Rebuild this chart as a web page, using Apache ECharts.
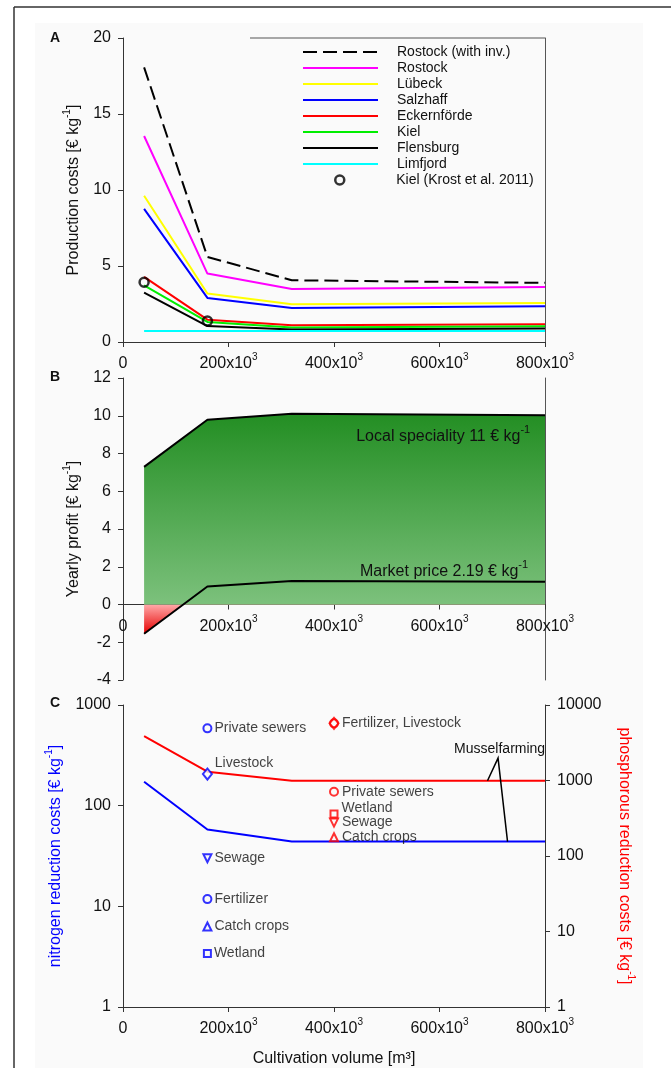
<!DOCTYPE html>
<html><head><meta charset="utf-8">
<script src="https://cdn.jsdelivr.net/npm/echarts@6/dist/echarts.min.js"></script>
<style>html,body{margin:0;padding:0;background:#fff}#c{width:671px;height:1068px}</style>
</head><body><div id="c"></div>
<script>
// ---------- DATA ----------
const volumes = [40000, 160000, 320000, 800000];
const xTicks = [0, 200000, 400000, 600000, 800000];
// Panel A: production costs [€ kg-1]
const rostockInv   = [18.07, 5.60, 4.06, 3.89];
const rostock      = [13.55, 4.50, 3.49, 3.62];
const luebeck      = [9.62, 3.19, 2.48, 2.57];
const salzhaff     = [8.76, 2.90, 2.24, 2.35];
const eckernfoerde = [4.28, 1.47, 1.10, 1.17];
const kiel         = [3.73, 1.32, 0.95, 1.03];
const flensburg    = [3.25, 1.05, 0.82, 0.88];
const limfjord     = [0.72, 0.72, 0.72, 0.72];
const krostVolumes = [40000, 160000];
const krostKiel    = [3.93, 1.38];
// Panel B: yearly profit [€ kg-1]
const profitLocal  = [7.29, 9.79, 10.10, 10.03];
const profitMarket = [-1.55, 0.95, 1.25, 1.20];
// Panel C: reduction costs [€ kg-1]
const nitrogenMussel   = [173, 58, 44, 44];
const phosphorusMussel = [3880, 1310, 995, 990];
const nVolume = 160000;
const nMeasures = ['Private sewers', 'Livestock', 'Sewage', 'Fertilizer', 'Catch crops', 'Wetland'];
const nCosts    = [586, 206, 30, 11.8, 6.3, 3.4];
const pVolume = 400000;
const pMeasures = ['Fertilizer', 'Livestock', 'Private sewers', 'Wetland', 'Sewage', 'Catch crops'];
const pCosts    = [5710, 5710, 711, 360, 277, 177];
const pLabels   = ['Fertilizer, Livestock', '', 'Private sewers', 'Wetland', 'Sewage', 'Catch crops'];

// ---------- STYLE ----------
const FONT = '"Liberation Sans", Arial, sans-serif';
const symbolStyle = {
  'Private sewers': {symbol: 'circle', size: 8, rot: 0},
  'Livestock':      {symbol: 'diamond', size: [9, 11], rot: 0},
  'Sewage':         {symbol: 'triangle', size: 8, rot: 180},
  'Fertilizer':     {symbol: 'circle', size: 8, rot: 0},
  'Catch crops':    {symbol: 'triangle', size: 8, rot: 0},
  'Wetland':        {symbol: 'rect', size: 7, rot: 0}
};
const cityLines = [
  {name: 'Rostock (with inv.)', data: rostockInv, color: '#000000', dash: [14, 6]},
  {name: 'Rostock', data: rostock, color: '#ff00ff'},
  {name: 'Lübeck', data: luebeck, color: '#ffff00'},
  {name: 'Salzhaff', data: salzhaff, color: '#0000ff'},
  {name: 'Eckernförde', data: eckernfoerde, color: '#ff0000'},
  {name: 'Kiel', data: kiel, color: '#00ee00'},
  {name: 'Flensburg', data: flensburg, color: '#000000'},
  {name: 'Limfjord', data: limfjord, color: '#00ffff'}
];
const pair = (xs, ys) => xs.map((x, i) => [x, ys[i]]);
const rich = {
  n: {fontSize: 16, fontFamily: FONT, color: '#111', lineHeight: 20, verticalAlign: 'bottom'},
  s: {fontSize: 10, fontFamily: FONT, color: '#111', lineHeight: 10, verticalAlign: 'top'}
};
const richColor = (c) => ({
  n: Object.assign({}, rich.n, {color: c}),
  s: Object.assign({}, rich.s, {color: c})
});
const volLabel = v => v === 0 ? '{n|0}' : '{n|' + Math.round(v / 1000) + 'x10}{s|3}';
const axisLineStyle = {lineStyle: {color: '#333', width: 1}};
const tickStyle = {show: true, length: 5, lineStyle: {color: '#333', width: 1}};

function xAxis(grid, extra) {
  return Object.assign({
    type: 'value', gridIndex: grid, min: xTicks[0], max: xTicks[xTicks.length - 1],
    interval: xTicks[1] - xTicks[0],
    axisLine: Object.assign({onZero: false}, axisLineStyle), axisTick: tickStyle,
    splitLine: {show: false},
    axisLabel: {formatter: volLabel, rich: rich, margin: 10}
  }, extra || {});
}
const yLabel = {fontSize: 16, color: '#111', fontFamily: FONT, margin: 12};
const borderAxis = (grid) => ({
  type: 'value', gridIndex: grid, position: 'right', axisLine: {show: true, lineStyle: {color: '#555', width: 1}},
  axisTick: {show: false}, axisLabel: {show: false}, splitLine: {show: false}
});

const series = [];
cityLines.forEach(c => series.push({
  name: c.name, type: 'line', xAxisIndex: 0, yAxisIndex: 0, data: pair(volumes, c.data),
  symbol: 'none', lineStyle: {color: c.color, width: 2, type: c.dash || 'solid'},
  itemStyle: {color: c.color}, z: 3, silent: true
}));
series.push({
  name: 'Kiel (Krost et al. 2011)', type: 'scatter', xAxisIndex: 0, yAxisIndex: 0,
  data: pair(krostVolumes, krostKiel), symbol: 'circle', symbolSize: 9,
  itemStyle: {color: 'rgba(255,255,255,0)', borderColor: '#000', borderWidth: 2.5}, z: 5
});
// Panel B
series.push({
  name: 'marketArea', type: 'line', xAxisIndex: 1, yAxisIndex: 2, data: pair(volumes, profitMarket),
  symbol: 'none', lineStyle: {width: 0},
  areaStyle: {origin: 0, opacity: 1, color: new echarts.graphic.LinearGradient(0, 0, 0, 1, [
    {offset: 0, color: '#ffd0d0'}, {offset: 0.45, color: '#ffa8a8'}, {offset: 1, color: '#e60000'}])},
  z: 1, silent: true
});
series.push({
  name: 'Local speciality', type: 'line', xAxisIndex: 1, yAxisIndex: 2, data: pair(volumes, profitLocal),
  symbol: 'none', lineStyle: {color: '#000', width: 2},
  areaStyle: {origin: 0, opacity: 1, color: new echarts.graphic.LinearGradient(0, 0, 0, 1, [
    {offset: 0, color: '#238e23'}, {offset: 1, color: '#7cc17c'}])},
  z: 2, silent: true
});
series.push({
  name: 'Market price', type: 'line', xAxisIndex: 1, yAxisIndex: 2, data: pair(volumes, profitMarket),
  symbol: 'none', lineStyle: {color: '#000', width: 2}, z: 3, silent: true
});
// Panel C
series.push({
  name: 'N musselfarming', type: 'line', xAxisIndex: 2, yAxisIndex: 4, data: pair(volumes, nitrogenMussel),
  symbol: 'none', lineStyle: {color: '#0000ff', width: 2}, z: 3, silent: true
});
series.push({
  name: 'P musselfarming', type: 'line', xAxisIndex: 2, yAxisIndex: 5, data: pair(volumes, phosphorusMussel),
  symbol: 'none', lineStyle: {color: '#ff0000', width: 2}, z: 3, silent: true
});
function measureItems(names, costs, vol, labels) {
  return names.map((n, i) => {
    const st = symbolStyle[n];
    return {name: labels ? labels[i] : n, value: [vol, costs[i]], symbol: st.symbol, symbolSize: st.size, symbolRotate: st.rot};
  });
}
series.push({
  name: 'N measures', type: 'scatter', xAxisIndex: 2, yAxisIndex: 4,
  data: measureItems(nMeasures, nCosts, nVolume).map(d => d.name === 'Livestock'
     ? Object.assign(d, {label: {offset: [0, -11]}}) : d),
  itemStyle: {color: '#fafafa', borderColor: '#0000ff', borderWidth: 2},
  label: {show: true, position: 'right', distance: 2, formatter: '{b}', color: '#111', fontSize: 14, fontFamily: FONT},
  z: 5
});
series.push({
  name: 'P measures', type: 'scatter', xAxisIndex: 2, yAxisIndex: 5,
  data: measureItems(pMeasures, pCosts, pVolume, pLabels).map(d => d.name === 'Wetland'
     ? Object.assign(d, {label: {offset: [0, -6]}}) : d),
  itemStyle: {color: 'rgba(255,255,255,0)', borderColor: '#ff0000', borderWidth: 2},
  label: {show: true, position: 'right', distance: 3, formatter: '{b}', color: '#111', fontSize: 14, fontFamily: FONT},
  z: 5
});

const option = {
  backgroundColor: '#fff',
  animation: false,
  textStyle: {fontFamily: FONT},
  grid: [
    {left: 123, right: 126, top: 38, height: 304},
    {left: 123, right: 126, top: 378, height: 302},
    {left: 123, right: 126, top: 705, height: 302}
  ],
  legend: [
    {
      data: cityLines.map(c => c.name), orient: 'vertical', left: 302, top: 45, padding: 0,
      itemWidth: 75, itemHeight: 14, itemGap: 2, selectedMode: false,
      itemStyle: {color: 'rgba(0,0,0,0)', borderWidth: 0, opacity: 0},
      textStyle: {fontSize: 14, color: '#111', fontFamily: FONT, padding: [0, 0, 0, 14]}
    },
    {
      data: [{name: 'Kiel (Krost et al. 2011)', icon: 'circle'}], orient: 'vertical', left: 334, top: 173, padding: 0,
      itemWidth: 75, itemHeight: 9, selectedMode: false,
      itemStyle: {color: 'rgba(255,255,255,0)', borderColor: '#000', borderWidth: 2.5},
      textStyle: {fontSize: 14, color: '#111', fontFamily: FONT, padding: [0, 0, 0, 14]}
    }
  ],
  xAxis: [
    xAxis(0),
    xAxis(1),
    xAxis(2, {name: 'Cultivation volume [m³]', nameLocation: 'middle', nameGap: 44,
      nameTextStyle: {fontSize: 16, color: '#111', fontFamily: FONT}})
  ],
  yAxis: [
    {type: 'value', gridIndex: 0, min: 0, max: 20, interval: 5, axisLine: axisLineStyle, axisTick: tickStyle,
     splitLine: {show: false}, axisLabel: yLabel,
     name: '{n|Production costs [€ kg}{s|-1}{n|]}', nameLocation: 'middle', nameGap: 41,
     nameTextStyle: {rich: rich}},
    borderAxis(0),
    {type: 'value', gridIndex: 1, min: -4, max: 12, interval: 2, axisLine: axisLineStyle, axisTick: tickStyle,
     splitLine: {show: false}, axisLabel: yLabel,
     name: '{n|Yearly profit [€ kg}{s|-1}{n|]}', nameLocation: 'middle', nameGap: 41,
     nameTextStyle: {rich: rich}},
    borderAxis(1),
    {type: 'log', logBase: 10, gridIndex: 2, min: 1, max: 1000, axisLine: axisLineStyle, axisTick: tickStyle,
     splitLine: {show: false}, minorTick: {show: false},
     axisLabel: Object.assign({formatter: v => String(Math.round(v))}, yLabel),
     name: '{n|nitrogen reduction costs [€ kg}{s|-1}{n|]}', nameLocation: 'middle', nameGap: 59,
     nameTextStyle: {rich: richColor('#0000ff')}},
    {type: 'log', logBase: 10, gridIndex: 2, position: 'right', min: 1, max: 10000, axisLine: axisLineStyle,
     axisTick: tickStyle, splitLine: {show: false},
     axisLabel: Object.assign({formatter: v => String(Math.round(v))}, yLabel),
     name: '{n|phosphorous reduction costs [€ kg}{s|-1}{n|]}', nameLocation: 'middle', nameGap: 71, nameRotate: -90,
     nameTextStyle: {rich: richColor('#ff0000')}}
  ],
  series: series
};

const chart = echarts.init(document.getElementById('c'));
chart.setOption(option);

// Panel B x-axis sits on profit = 0: shift it up from the grid bottom by the scale distance
const zeroPx = chart.convertToPixel({yAxisIndex: 2}, 0);
const bottomPx = chart.convertToPixel({yAxisIndex: 2}, -4);
chart.setOption({xAxis: [{}, {offset: -(bottomPx - zeroPx)}, {}]});

// ---------- annotations (positioned in data space) ----------
const toPx = (seriesIndex, v) => chart.convertToPixel({seriesIndex: seriesIndex}, v);
const iLocal = cityLines.length + 2, iN = cityLines.length + 4, iP = cityLines.length + 5;
const localPt = toPx(iLocal, [772000, 9.0]);
const marketPt = toPx(iLocal, [768000, 1.85]);
const mText = toPx(iP, [714000, 2620]);
const mApex = toPx(iP, [711000, 1980]);
const mRed = toPx(iP, [691000, 991]);
const mBlue = toPx(iN, [729000, 44]);
const txt = (s, extra) => Object.assign({text: s, fontFamily: FONT, fill: '#111', fontSize: 14}, extra || {});
const supRich = {n: {fontSize: 16, fontFamily: FONT, fill: '#111', lineHeight: 20, verticalAlign: 'bottom'},
                 s: {fontSize: 11, fontFamily: FONT, fill: '#111', lineHeight: 10, verticalAlign: 'top'}};
const g = [
  {type: 'rect', shape: {x: 35, y: 23, width: 608, height: 1045}, style: {fill: '#fafafa'}, z: -100, silent: true},
  {type: 'line', shape: {x1: 14, y1: 7, x2: 671, y2: 7}, style: {stroke: '#333', lineWidth: 1.5}},
  {type: 'line', shape: {x1: 14, y1: 7, x2: 14, y2: 1068}, style: {stroke: '#333', lineWidth: 1.5}},
  {type: 'line', shape: {x1: 250, y1: 38, x2: 545, y2: 38}, style: {stroke: '#555', lineWidth: 1}},
  {type: 'text', x: 50, y: 38, style: txt('A', {fontWeight: 'bold', verticalAlign: 'middle'})},
  {type: 'text', x: 50, y: 377, style: txt('B', {fontWeight: 'bold', verticalAlign: 'middle'})},
  {type: 'text', x: 50, y: 703, style: txt('C', {fontWeight: 'bold', verticalAlign: 'middle'})},
  {type: 'text', x: localPt[0], y: localPt[1], z: 10, style: {
    text: '{n|Local speciality 11 € kg}{s|-1}', align: 'right', verticalAlign: 'middle', rich: supRich}},
  {type: 'text', x: marketPt[0], y: marketPt[1], z: 10, style: {
    text: '{n|Market price 2.19 € kg}{s|-1}', align: 'right', verticalAlign: 'middle', rich: supRich}},
  {type: 'text', x: mText[0], y: mText[1], z: 10, style: txt('Musselfarming', {align: 'center', verticalAlign: 'middle'})},
  {type: 'polyline', z: 10, shape: {points: [mRed, mApex, mBlue]}, style: {stroke: '#000', lineWidth: 1.5, fill: null}}
];
chart.setOption({graphic: g});
</script></body></html>
